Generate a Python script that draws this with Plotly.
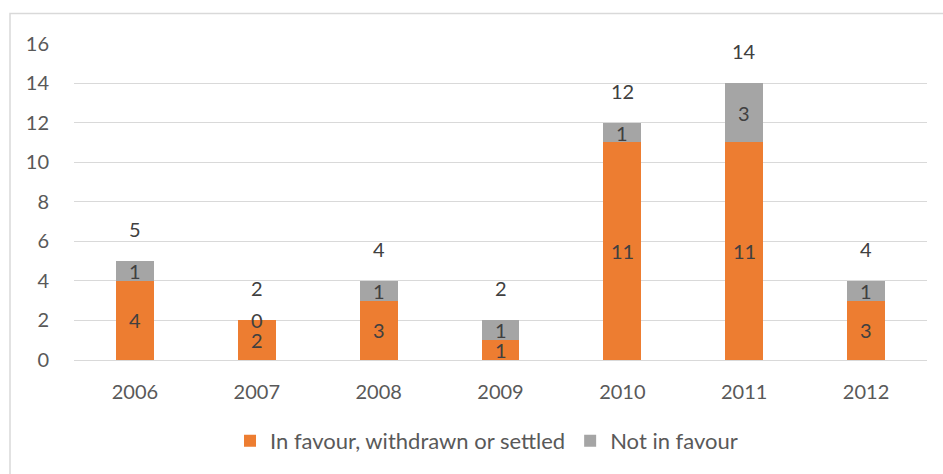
import plotly.graph_objects as go

years = [2006, 2007, 2008, 2009, 2010, 2011, 2012]
year_labels = ["2006", "2007", "2008", "2009", "2010", "2011", "2012"]
in_favour = [4, 2, 3, 1, 11, 11, 3]
not_in_favour = [1, 0, 1, 1, 1, 3, 1]
totals = [a + b for a, b in zip(in_favour, not_in_favour)]
y_ticks = [0, 2, 4, 6, 8, 10, 12, 14, 16]

ORANGE = "#ED7D31"
GREY = "#A5A5A5"
FONT = "Lato, 'Open Sans', sans-serif"
TXT = "#404040"
AX = "#595959"
FS = 20
LFS = 22

fig = go.Figure()
fig.add_trace(go.Bar(x=years, y=in_favour, name="In favour, withdrawn or settled",
                     marker=dict(color=ORANGE, line=dict(width=0)), width=0.31))
fig.add_trace(go.Bar(x=years, y=not_in_favour, name="Not in favour",
                     marker=dict(color=GREY, line=dict(width=0)), width=0.31))

annotations = []
for yr, a, b, t in zip(years, in_favour, not_in_favour, totals):
    annotations.append(dict(x=yr, y=a / 2, text=str(a), showarrow=False,
                            font=dict(size=FS, color=TXT, family=FONT)))
    annotations.append(dict(x=yr, y=a + b / 2, text=str(b), showarrow=False,
                            font=dict(size=FS, color=TXT, family=FONT)))
    annotations.append(dict(x=yr, y=t, text=str(t), showarrow=False, yshift=32,
                            font=dict(size=FS, color=TXT, family=FONT)))

fig.update_layout(
    barmode="stack",
    width=943, height=474,
    margin=dict(l=74, r=16, t=43, b=114, autoexpand=False),
    paper_bgcolor="white", plot_bgcolor="white",
    font=dict(family=FONT, size=FS, color=AX),
    annotations=annotations,
    legend=dict(orientation="h", x=0.4836, xanchor="center", y=-0.255, yanchor="middle",
                font=dict(size=LFS, color=AX), traceorder="normal"),
    shapes=[dict(type="rect", xref="paper", yref="paper",
                 x0=(10 - 74) / 853, x1=1.1, y0=-0.4, y1=(360 - 13.5) / 317,
                 line=dict(color="#D9D9D9", width=1.5), layer="below")],
)
fig.update_yaxes(range=[0, 16.03], tickvals=y_ticks, showgrid=True, gridcolor="#D9D9D9",
                 gridwidth=1.3, zeroline=False, showline=False,
                 ticks="outside", ticklen=20, tickcolor="rgba(0,0,0,0)",
                 tickfont=dict(size=FS, color=AX))
fig.update_xaxes(type="linear", range=[2005.5, 2012.5], tickvals=years, ticktext=year_labels,
                 showgrid=False, zeroline=False,
                 showline=True, linecolor="#D9D9D9", linewidth=1.3,
                 ticks="outside", ticklen=14, tickcolor="rgba(0,0,0,0)",
                 tickfont=dict(size=FS, color=AX))

fig.write_html("out.html", config={"displayModeBar": False},
               post_script="document.body.style.margin='0px';")
